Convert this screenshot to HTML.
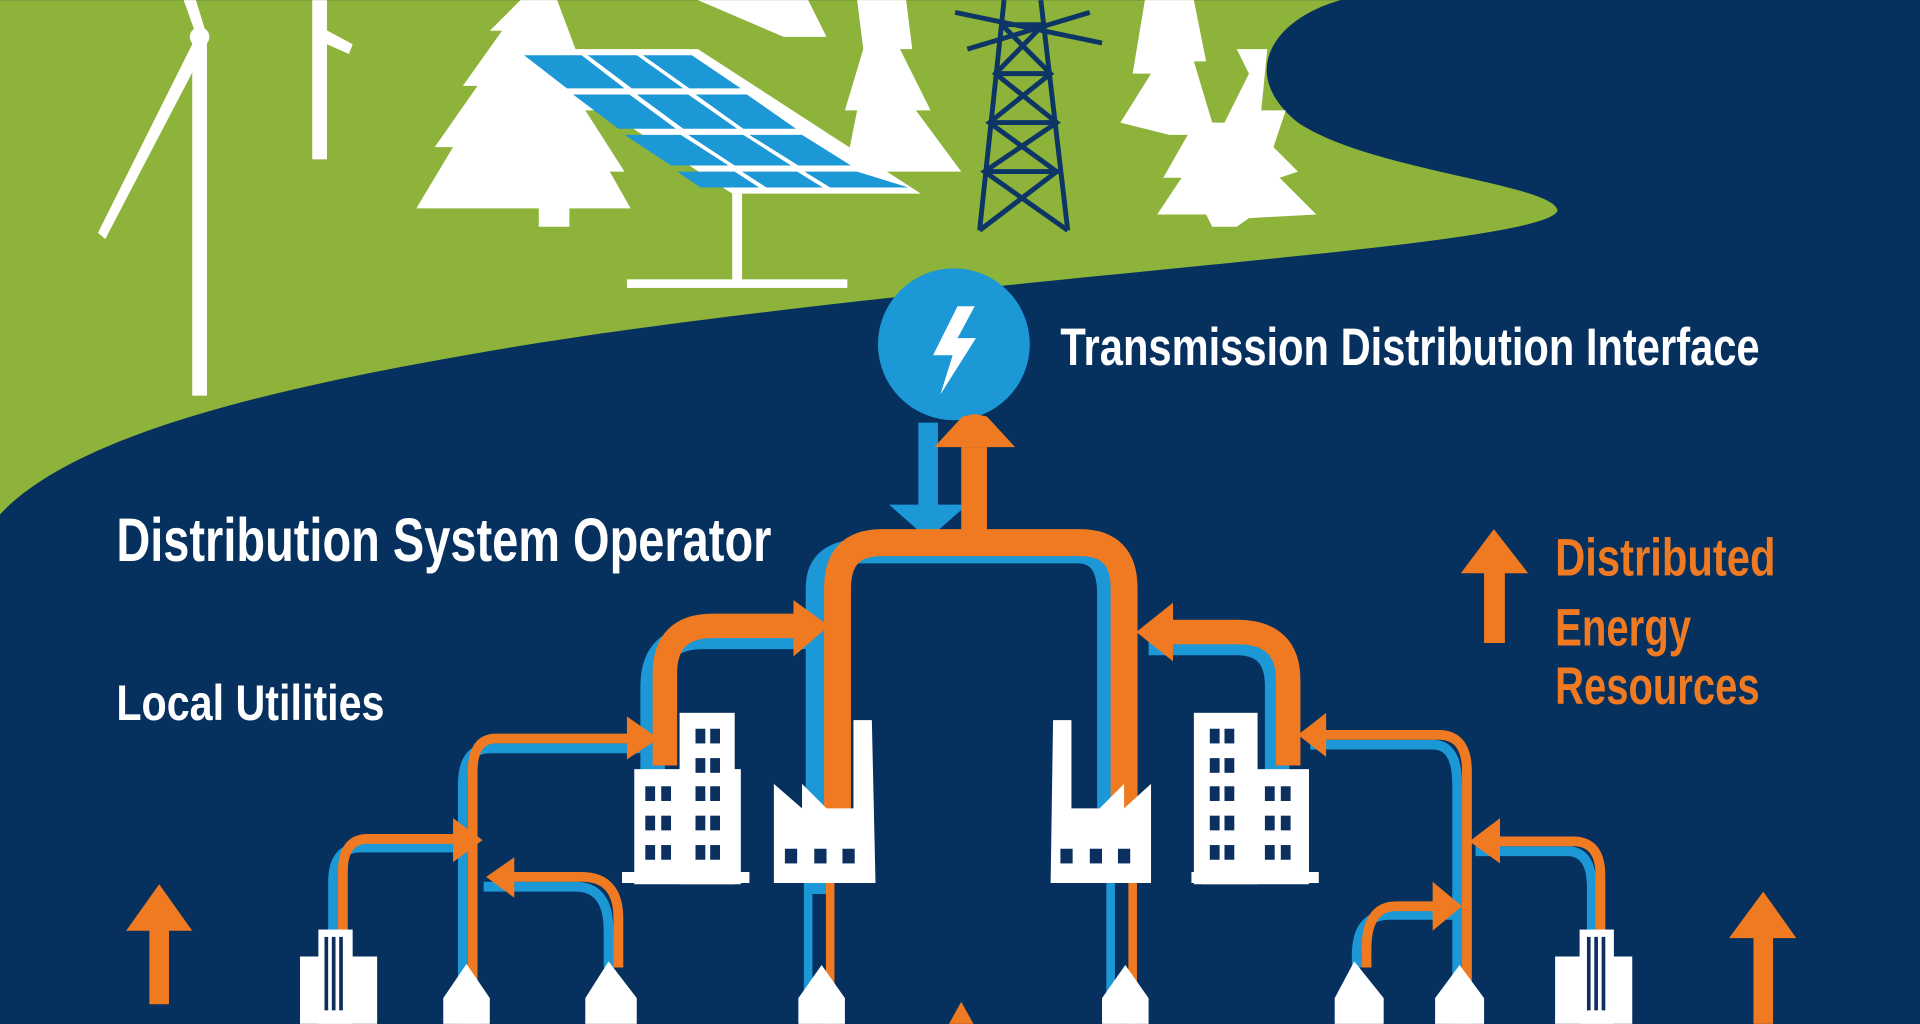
<!DOCTYPE html>
<html><head><meta charset="utf-8"><style>
html,body{margin:0;padding:0;background:#06305e;overflow:hidden}
svg{display:block}
text{font-family:"Liberation Sans Narrow","Liberation Sans",sans-serif;font-weight:bold}
</style></head><body>
<svg width="1920" height="1024" viewBox="0 0 1568 836" xmlns="http://www.w3.org/2000/svg">
<rect width="1568" height="836" fill="#06305e"/>
<path d="M0,0 L1095,0 C1040,15 1010,60 1060,100 C1120,140 1270,150 1272,172 C1265,190 1100,205 900,225 C700,245 520,265 380,290 C220,318 60,355 0,420 Z" fill="#8db33a"/>
<g fill="#fff">
<rect x="157" y="25" width="12" height="298"/>
<path d="M160,30 L80,190 L86,195 L168,38 Z"/>
<path d="M160,28 L150,0 L160,0 L168,26 Z"/>
<circle cx="163" cy="30" r="8"/>
<rect x="255" y="0" width="12" height="130"/>
<path d="M262,22 L288,36 L285,44 L258,32 Z"/>
</g>
<g fill="#fff">
<path d="M425,0 L455,0 L470,40 L460,40 L490,90 L478,90 L510,140 L498,140 L515,170 L465,170 L465,185 L440,185 L440,170 L340,170 L370,120 L355,120 L390,70 L378,70 L410,25 L400,25 Z"/>
<path d="M570,0 L660,0 L675,30 L640,30 Z"/>
<path d="M700,0 L740,0 L745,40 L735,40 L760,90 L748,90 L785,140 L690,140 L700,90 L690,90 L705,40 Z"/>
<path d="M935,0 L975,0 L985,50 L975,50 L990,100 L1000,100 L1020,60 L1010,40 L1035,40 L1030,90 L1050,90 L1040,120 L1060,140 L1045,145 L1075,175 L1020,178 L1010,185 L990,185 L985,175 L945,175 L965,145 L950,145 L970,110 L955,110 L915,100 L940,60 L925,60 Z"/>
</g>
<g>
<path d="M418,40 L570,40 L752,158 L598,158 Z" fill="#fff"/>
<g fill="#1b98d5">
<path d="M428,45 L475,45 L510,72 L463,72 Z"/><path d="M480,45 L520,45 L558,72 L516,72 Z"/><path d="M525,45 L565,45 L605,72 L563,72 Z"/>
<path d="M468,77 L514,77 L552,105 L505,105 Z"/><path d="M520,77 L562,77 L602,105 L558,105 Z"/><path d="M568,77 L610,77 L650,105 L607,105 Z"/>
<path d="M510,110 L556,110 L595,135 L548,135 Z"/><path d="M562,110 L607,110 L646,135 L600,135 Z"/><path d="M612,110 L655,110 L695,135 L652,135 Z"/>
<path d="M553,140 L600,140 L620,153 L572,153 Z"/><path d="M606,140 L651,140 L672,153 L626,153 Z"/><path d="M657,140 L700,140 L742,153 L678,153 Z"/>
</g>
<rect x="598" y="158" width="8" height="72" fill="#fff"/>
<rect x="512" y="228" width="180" height="7" fill="#fff"/>
</g>
<g stroke="#0d3566" stroke-width="4" fill="none">
<path d="M820,0 L800,188 M850,0 L872,188 M818,20 L852,20 M813,60 L858,60 M808,100 L863,100 M804,140 L868,140 M818,20 L858,60 L808,100 L863,140 L800,188 M852,20 L813,60 L863,100 L804,140 L872,188 M780,10 L900,35 M790,40 L890,10"/>
</g>
<circle cx="779" cy="281" r="62" fill="#1b98d5"/>
<path d="M782,250 L762,290 L778,290 L768,322 L797,276 L782,276 L796,250 Z" fill="#fff"/>
<text x="866" y="298" font-size="43" fill="#fff" textLength="571" lengthAdjust="spacingAndGlyphs">Transmission Distribution Interface</text>
<text x="95" y="458" font-size="50" fill="#fff" textLength="535" lengthAdjust="spacingAndGlyphs">Distribution System Operator</text>
<text x="95" y="588" font-size="41" fill="#fff" textLength="219" lengthAdjust="spacingAndGlyphs">Local Utilities</text>
<g fill="#f07a22" font-size="43">
<text x="1270" y="470" textLength="180" lengthAdjust="spacingAndGlyphs">Distributed</text>
<text x="1270" y="527" textLength="111" lengthAdjust="spacingAndGlyphs">Energy</text>
<text x="1270" y="575" textLength="167" lengthAdjust="spacingAndGlyphs">Resources</text>
</g>
<g fill="#f07a22">
<path d="M1212,525 L1212,468 L1193,468 L1220,432 L1248,468 L1229,468 L1229,525 Z"/>
<path d="M122,820 L122,760 L103,760 L130,722 L157,760 L138,760 L138,820 Z"/>
<path d="M1432,836 L1432,766 L1412,766 L1440,728 L1467,766 L1448,766 L1448,836 Z"/>
<path d="M775,836 L785,818 L795,836 Z"/>
</g>
<path d="M750,345 L766,345 L766,412 L790,412 L758,440 L726,412 L750,412 Z" fill="#1b98d5"/>
<g fill="none" stroke="#1b98d5" stroke-linecap="butt">
<path d="M668,730 L668,480 Q668,450 705,450 L880,450 Q906,450 906,485 L906,660" stroke-width="20"/>
<path d="M660,520 L575,520 Q533,520 533,560 L533,630" stroke-width="20"/>
<path d="M938,525 L1010,525 Q1043,525 1043,560 L1043,630" stroke-width="20"/>
<path d="M523,611 L400,611 Q378,611 378,640 L378,836" stroke-width="8"/>
<path d="M385,692 L295,692 Q272,692 272,720 L272,765" stroke-width="8"/>
<path d="M395,724 L470,724 Q497,724 497,760 L497,790" stroke-width="8"/>
<path d="M1070,608 L1170,608 Q1190,608 1190,640 L1190,836" stroke-width="8"/>
<path d="M1205,695 L1280,695 Q1300,695 1300,725 L1300,765" stroke-width="8"/>
<path d="M1190,747 L1135,747 Q1108,747 1108,780 L1108,790" stroke-width="8"/>
<path d="M660,720 L660,836 M907,720 L907,836" stroke-width="7"/>
</g>
<g fill="none" stroke="#f07a22">
<path d="M684,720 L684,480 Q684,443 720,443 L882,443 Q918,443 918,480 L918,665" stroke-width="22"/>
<rect x="785" y="365" width="21" height="80" fill="#f07a22" stroke="none"/>
<path d="M655,511 L582,511 Q543,511 543,550 L543,625" stroke-width="20"/>
<path d="M945,516 L1010,516 Q1052,516 1052,555 L1052,625" stroke-width="20"/>
<path d="M518,603 L405,603 Q386,603 386,630 L386,836" stroke-width="8"/>
<path d="M380,685 L300,685 Q280,685 280,712 L280,765" stroke-width="8"/>
<path d="M410,716 L475,716 Q505,716 505,750 L505,790" stroke-width="8"/>
<path d="M1080,600 L1175,600 Q1198,600 1198,630 L1198,836" stroke-width="8"/>
<path d="M1215,687 L1285,687 Q1307,687 1307,715 L1307,765" stroke-width="8"/>
<path d="M1180,740 L1140,740 Q1116,740 1116,775 L1116,790" stroke-width="8"/>
<path d="M678,720 L678,836 M925,720 L925,836" stroke-width="7"/>
</g>
<g fill="#f07a22">
<path d="M806,340 L829,365 L763,365 L786,340 L796,338 Z"/>
<path d="M648,490 L677,511 L648,536 Z"/>
<path d="M958,492 L928,516 L958,540 Z"/>
<path d="M512,585 L538,603 L512,620 Z"/>
<path d="M1083,582 L1060,600 L1083,618 Z"/>
<path d="M370,668 L394,686 L370,704 Z"/>
<path d="M420,700 L397,716 L420,733 Z"/>
<path d="M1225,668 L1200,687 L1225,705 Z"/>
<path d="M1170,720 L1194,740 L1170,760 Z"/>
</g>
<g fill="#fff">
<rect x="555" y="582" width="45" height="140"/><rect x="518" y="628" width="87" height="94"/><rect x="508" y="712" width="104" height="9"/>
<rect x="975" y="582" width="52" height="140"/><rect x="982" y="628" width="87" height="94"/><rect x="973" y="712" width="104" height="9"/>
<path d="M632,640 L655,660 L655,640 L675,660 L697,660 L697,588 L712,588 L715,721 L632,721 Z"/>
<path d="M940,640 L918,660 L918,640 L898,660 L875,660 L875,588 L860,588 L858,721 L940,721 Z"/>
<rect x="260" y="759" width="28" height="77"/><rect x="245" y="781" width="63" height="55"/>
<rect x="1290" y="759" width="28" height="77"/><rect x="1270" y="781" width="63" height="55"/>
<path d="M362,836 L362,815 L381,787 L400,815 L400,836 Z"/>
<path d="M478,836 L478,815 L497,785 L520,815 L520,836 Z"/>
<path d="M652,836 L652,815 L671,788 L690,815 L690,836 Z"/>
<path d="M900,836 L900,815 L919,788 L938,815 L938,836 Z"/>
<path d="M1090,836 L1090,815 L1106,785 L1130,815 L1130,836 Z"/>
<path d="M1172,836 L1172,815 L1192,788 L1212,815 L1212,836 Z"/>
</g>
<g fill="#0b2f5e">
<rect x="265" y="765" width="3" height="60"/><rect x="271" y="765" width="3" height="60"/><rect x="277" y="765" width="3" height="60"/>
<rect x="1296" y="765" width="3" height="60"/><rect x="1302" y="765" width="3" height="60"/><rect x="1308" y="765" width="3" height="60"/>
<rect x="568" y="595" width="8" height="12"/><rect x="580" y="595" width="8" height="12"/>
<rect x="568" y="619" width="8" height="12"/><rect x="580" y="619" width="8" height="12"/>
<rect x="527" y="642" width="8" height="12"/><rect x="540" y="642" width="8" height="12"/><rect x="568" y="642" width="8" height="12"/><rect x="580" y="642" width="8" height="12"/>
<rect x="527" y="666" width="8" height="12"/><rect x="540" y="666" width="8" height="12"/><rect x="568" y="666" width="8" height="12"/><rect x="580" y="666" width="8" height="12"/>
<rect x="527" y="690" width="8" height="12"/><rect x="540" y="690" width="8" height="12"/><rect x="568" y="690" width="8" height="12"/><rect x="580" y="690" width="8" height="12"/>
<rect x="988" y="595" width="8" height="12"/><rect x="1000" y="595" width="8" height="12"/>
<rect x="988" y="619" width="8" height="12"/><rect x="1000" y="619" width="8" height="12"/>
<rect x="988" y="642" width="8" height="12"/><rect x="1000" y="642" width="8" height="12"/><rect x="1033" y="642" width="8" height="12"/><rect x="1046" y="642" width="8" height="12"/>
<rect x="988" y="666" width="8" height="12"/><rect x="1000" y="666" width="8" height="12"/><rect x="1033" y="666" width="8" height="12"/><rect x="1046" y="666" width="8" height="12"/>
<rect x="988" y="690" width="8" height="12"/><rect x="1000" y="690" width="8" height="12"/><rect x="1033" y="690" width="8" height="12"/><rect x="1046" y="690" width="8" height="12"/>
<rect x="641" y="693" width="10" height="12"/><rect x="665" y="693" width="10" height="12"/><rect x="688" y="693" width="10" height="12"/>
<rect x="866" y="693" width="10" height="12"/><rect x="890" y="693" width="10" height="12"/><rect x="913" y="693" width="10" height="12"/>
</g>
</svg>
</body></html>
